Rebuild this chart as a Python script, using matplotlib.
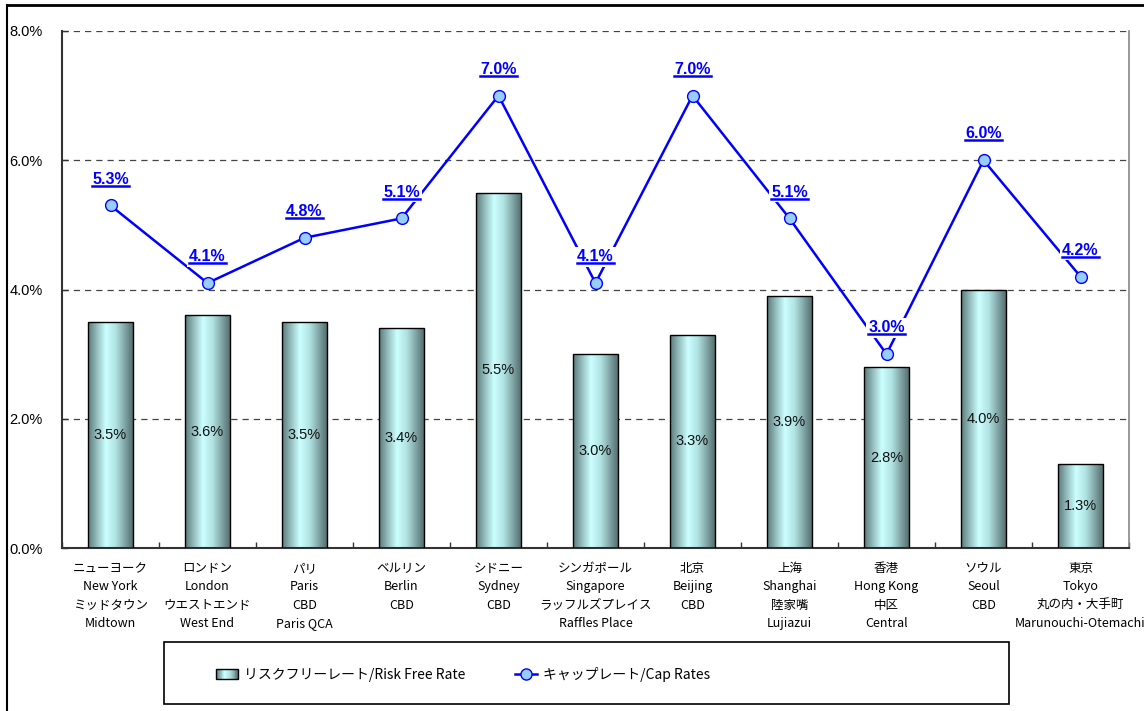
import matplotlib
matplotlib.use("Agg")
import matplotlib.pyplot as plt
import numpy as np
from matplotlib.colors import LinearSegmentedColormap
from matplotlib.legend_handler import HandlerBase
from matplotlib.lines import Line2D
from matplotlib.patches import Patch, Rectangle

plt.rcParams["font.family"] = ["Noto Sans CJK JP", "DejaVu Sans"]

cities = [
    "ニューヨーク\nNew York\nミッドタウン\nMidtown",
    "ロンドン\nLondon\nウエストエンド\nWest End",
    "パリ\nParis\nCBD\nParis QCA",
    "ベルリン\nBerlin\nCBD",
    "シドニー\nSydney\nCBD",
    "シンガポール\nSingapore\nラッフルズプレイス\nRaffles Place",
    "北京\nBeijing\nCBD",
    "上海\nShanghai\n陸家嘴\nLujiazui",
    "香港\nHong Kong\n中区\nCentral",
    "ソウル\nSeoul\nCBD",
    "東京\nTokyo\n丸の内・大手町\nMarunouchi-Otemachi",
]
risk_free = [3.5, 3.6, 3.5, 3.4, 5.5, 3.0, 3.3, 3.9, 2.8, 4.0, 1.3]
cap_rates = [5.3, 4.1, 4.8, 5.1, 7.0, 4.1, 7.0, 5.1, 3.0, 6.0, 4.2]
y_ticks = [0, 2, 4, 6, 8]

bar_cmap = LinearSegmentedColormap.from_list(
    "teal_tube",
    [(0.0, "#5b7878"), (0.18, "#90b8b8"), (0.4, "#ccffff"),
     (0.62, "#b0e2e2"), (0.85, "#7a9c9c"), (1.0, "#566f6f")],
)
LINE_BLUE = "#0000ff"
MARKER_FILL = "#99ccff"
NUM_FONT = "Liberation Sans"


class GradientHandler(HandlerBase):
    def create_artists(self, legend, orig_handle, xdescent, ydescent,
                       width, height, fontsize, trans):
        n = 24
        arts = []
        for i in range(n):
            r = Rectangle((-xdescent + width * i / n, -ydescent), width / n + 0.3, height,
                          facecolor=bar_cmap((i + 0.5) / n), edgecolor="none", transform=trans)
            arts.append(r)
        arts.append(Rectangle((-xdescent, -ydescent), width, height, facecolor="none",
                              edgecolor="black", linewidth=1, transform=trans))
        return arts


fig = plt.figure(figsize=(11.44, 7.11), dpi=100)
W, H = 1144, 711
ax = fig.add_axes([62 / W, 1 - 548 / H, (1129 - 62) / W, (548 - 31) / H])

x = np.arange(len(cities))
bars = ax.bar(x, risk_free, width=0.46, facecolor="none", edgecolor="black",
              linewidth=1, zorder=3)
grad = np.linspace(0, 1, 256).reshape(1, -1)
for b in bars:
    im = ax.imshow(grad, cmap=bar_cmap, aspect="auto", zorder=2,
                   extent=(b.get_x(), b.get_x() + b.get_width(), 0, b.get_height()))
    im.set_clip_path(b)

for xi, v in zip(x, risk_free):
    ax.text(xi, v / 2, f"{v:.1f}%", ha="center", va="center", fontsize=10.5,
            family=NUM_FONT, color="#111111", zorder=4)

ax.plot(x, cap_rates, color=LINE_BLUE, linewidth=1.8, marker="o", markersize=8.5,
        markerfacecolor=MARKER_FILL, markeredgecolor=LINE_BLUE, markeredgewidth=1,
        zorder=5)

cap_labels = []
for xi, v in zip(x, cap_rates):
    t = ax.annotate(f"{v:.1f}%", (xi, v), xytext=(0, 19), textcoords="offset points",
                    ha="center", va="center", fontsize=11.5, fontweight="bold",
                    family=NUM_FONT, color=LINE_BLUE, zorder=6,
                    bbox=dict(boxstyle="square,pad=0.15", facecolor="white", edgecolor="none"))
    cap_labels.append(t)

ax.set_xlim(-0.5, len(cities) - 0.5)
ax.set_ylim(0, 8)
ax.set_yticks(y_ticks)
ax.set_yticklabels([f"{t:.1f}%" for t in y_ticks], family=NUM_FONT, fontsize=10.5)
ax.set_xticks(x)
ax.set_xticklabels(cities, fontsize=9, linespacing=1.55)
ax.set_xticks(np.arange(-0.5, len(cities)), minor=True)
ax.tick_params(axis="x", which="major", length=0, pad=10)
ax.tick_params(axis="x", which="minor", direction="in", length=4, width=1, color="#333333")
ax.tick_params(axis="y", direction="in", length=4, width=1, color="#333333", pad=14)

ax.yaxis.grid(True, linestyle=(0, (5, 4)), color="#444444", linewidth=0.9, zorder=0)
ax.set_axisbelow(True)
for side in ("left", "bottom"):
    ax.spines[side].set_color("#333333")
    ax.spines[side].set_linewidth(1.5)
ax.spines["top"].set_visible(False)
ax.spines["right"].set_color("#888888")
ax.spines["right"].set_linewidth(1.2)

# outer frame (left and top edges of the chart area are visible)
fig.add_artist(Line2D([7 / W, 7 / W], [0, 1 - 5 / H], transform=fig.transFigure,
                      color="black", linewidth=1.5))
fig.add_artist(Line2D([7 / W, 1], [1 - 5 / H, 1 - 5 / H], transform=fig.transFigure,
                      color="black", linewidth=2))

# legend box
fig.add_artist(Rectangle((164 / W, 1 - 704 / H), (1009 - 164) / W, (704 - 642) / H,
                         transform=fig.transFigure, facecolor="none", edgecolor="black",
                         linewidth=1.2))
handles = [
    Patch(label="リスクフリーレート/Risk Free Rate"),
    Line2D([], [], color=LINE_BLUE, linewidth=1.8, marker="o", markersize=8,
           markerfacecolor=MARKER_FILL, markeredgecolor=LINE_BLUE,
           label="キャップレート/Cap Rates"),
]
fig.legend(handles=handles, handler_map={Patch: GradientHandler()}, ncol=2,
           loc="center left", bbox_to_anchor=(216 / W, 1 - 674 / H), frameon=False,
           fontsize=10, borderpad=0, borderaxespad=0, handlelength=1.6,
           handletextpad=0.4, columnspacing=3.6)

# underline the cap-rate labels
fig.canvas.draw()
renderer = fig.canvas.get_renderer()
inv = fig.transFigure.inverted()
for t in cap_labels:
    bb = t.get_window_extent(renderer)
    (x0, y0), (x1, _) = inv.transform([(bb.x0, bb.y0 + 1.0), (bb.x1, bb.y0 + 1.0)])
    fig.add_artist(Line2D([x0, x1], [y0, y0], transform=fig.transFigure,
                          color=LINE_BLUE, linewidth=1.8, zorder=7))

fig.savefig("out.png", dpi=100)
